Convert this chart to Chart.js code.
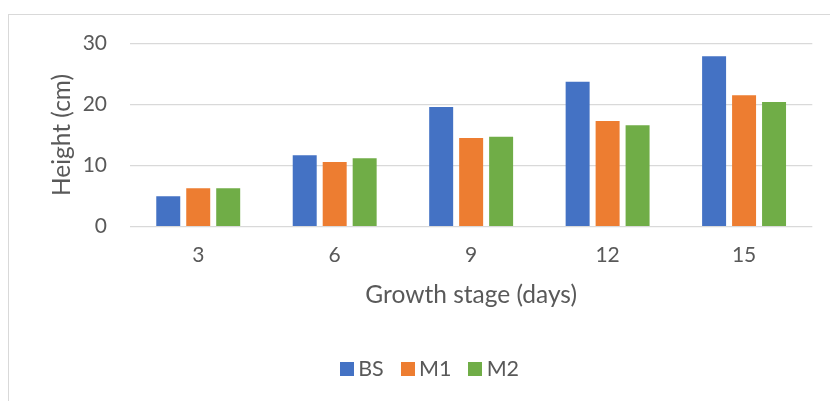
<!DOCTYPE html>
<html>
<head>
<meta charset="utf-8">
<script src="https://cdn.jsdelivr.net/npm/chart.js@4"></script>
<style>
  html, body { margin: 0; padding: 0; background: #ffffff; overflow: hidden; }
  #wrap { position: relative; width: 830px; height: 401px; overflow: hidden; }
  #frame { position: absolute; left: 8px; top: 14px; width: 900px; height: 500px; border: 1px solid #d9d9d9; box-sizing: border-box; }
  #holder { position: absolute; left: 0; top: 0; width: 830px; height: 401px; }
</style>
</head>
<body>
<div id="wrap">
  <div id="frame"></div>
  <div id="holder"><canvas id="chart" width="830" height="401"></canvas></div>
</div>
<script>
// Plant height by growth stage
const stages = ['3', '6', '9', '12', '15'];
const bsHeights = [5.0, 11.7, 19.6, 23.7, 27.9];
const m1Heights = [6.3, 10.6, 14.5, 17.3, 21.5];
const m2Heights = [6.3, 11.2, 14.7, 16.6, 20.4];
const yTicks = [0, 10, 20, 30];

const seriesColors = ['#4472c4', '#ed7d31', '#70ad47'];

const TEXT = '#595959';
const GRID = '#d9d9d9';
const FONT = 'Lato, "Liberation Sans", sans-serif';

// square legend swatches, drawn as point-style images
const swatches = seriesColors.map(c => {
  const cv = document.createElement('canvas');
  cv.width = 14; cv.height = 14;
  const g = cv.getContext('2d');
  g.fillStyle = c;
  g.fillRect(0, 0, 14, 14);
  return cv;
});

const bar = (label, data, color) => ({
  label, data,
  backgroundColor: color,
  borderWidth: 0,
  categoryPercentage: 0.659,
  barPercentage: 0.8
});

new Chart(document.getElementById('chart'), {
  type: 'bar',
  data: {
    labels: stages,
    datasets: [
      bar('BS', bsHeights, seriesColors[0]),
      bar('M1', m1Heights, seriesColors[1]),
      bar('M2', m2Heights, seriesColors[2])
    ]
  },
  options: {
    responsive: false,
    animation: false,
    layout: { padding: { top: 43.3, right: 17.7, bottom: 11.55, left: 53.2 } },
    plugins: {
      tooltip: { enabled: false },
      legend: {
        position: 'bottom',
        labels: {
          color: TEXT,
          font: { family: FONT, size: 21.5 },
          usePointStyle: true,
          boxWidth: 1,
          boxHeight: 14,
          padding: 23.5,
          generateLabels: (chart) => {
            const items = Chart.defaults.plugins.legend.labels.generateLabels(chart);
            items.forEach((it, i) => { it.pointStyle = swatches[i]; });
            return items;
          }
        }
      }
    },
    scales: {
      x: {
        grid: { display: false },
        border: { display: false },
        ticks: { color: TEXT, font: { family: FONT, size: 21 }, padding: 8, maxRotation: 0 },
        title: {
          display: true,
          text: 'Growth stage (days)',
          color: TEXT,
          font: { family: FONT, size: 24.5 },
          padding: { top: 0, bottom: 24.25 }
        },
        afterFit: (s) => { s.height = 107.75; }
      },
      y: {
        min: 0,
        max: 30,
        afterBuildTicks: (s) => { s.ticks = yTicks.map(v => ({ value: v })); },
        grid: { color: GRID, lineWidth: 1.3, drawTicks: false },
        border: { display: false },
        ticks: { color: TEXT, font: { family: FONT, size: 21 }, padding: 23 },
        title: {
          display: true,
          text: 'Height (cm)',
          color: TEXT,
          font: { family: FONT, size: 24.5, lineHeight: 1 },
          padding: { top: -3, bottom: 0 }
        },
        afterFit: (s) => { s.width = 76.8; }
      }
    }
  }
});
</script>
</body>
</html>
